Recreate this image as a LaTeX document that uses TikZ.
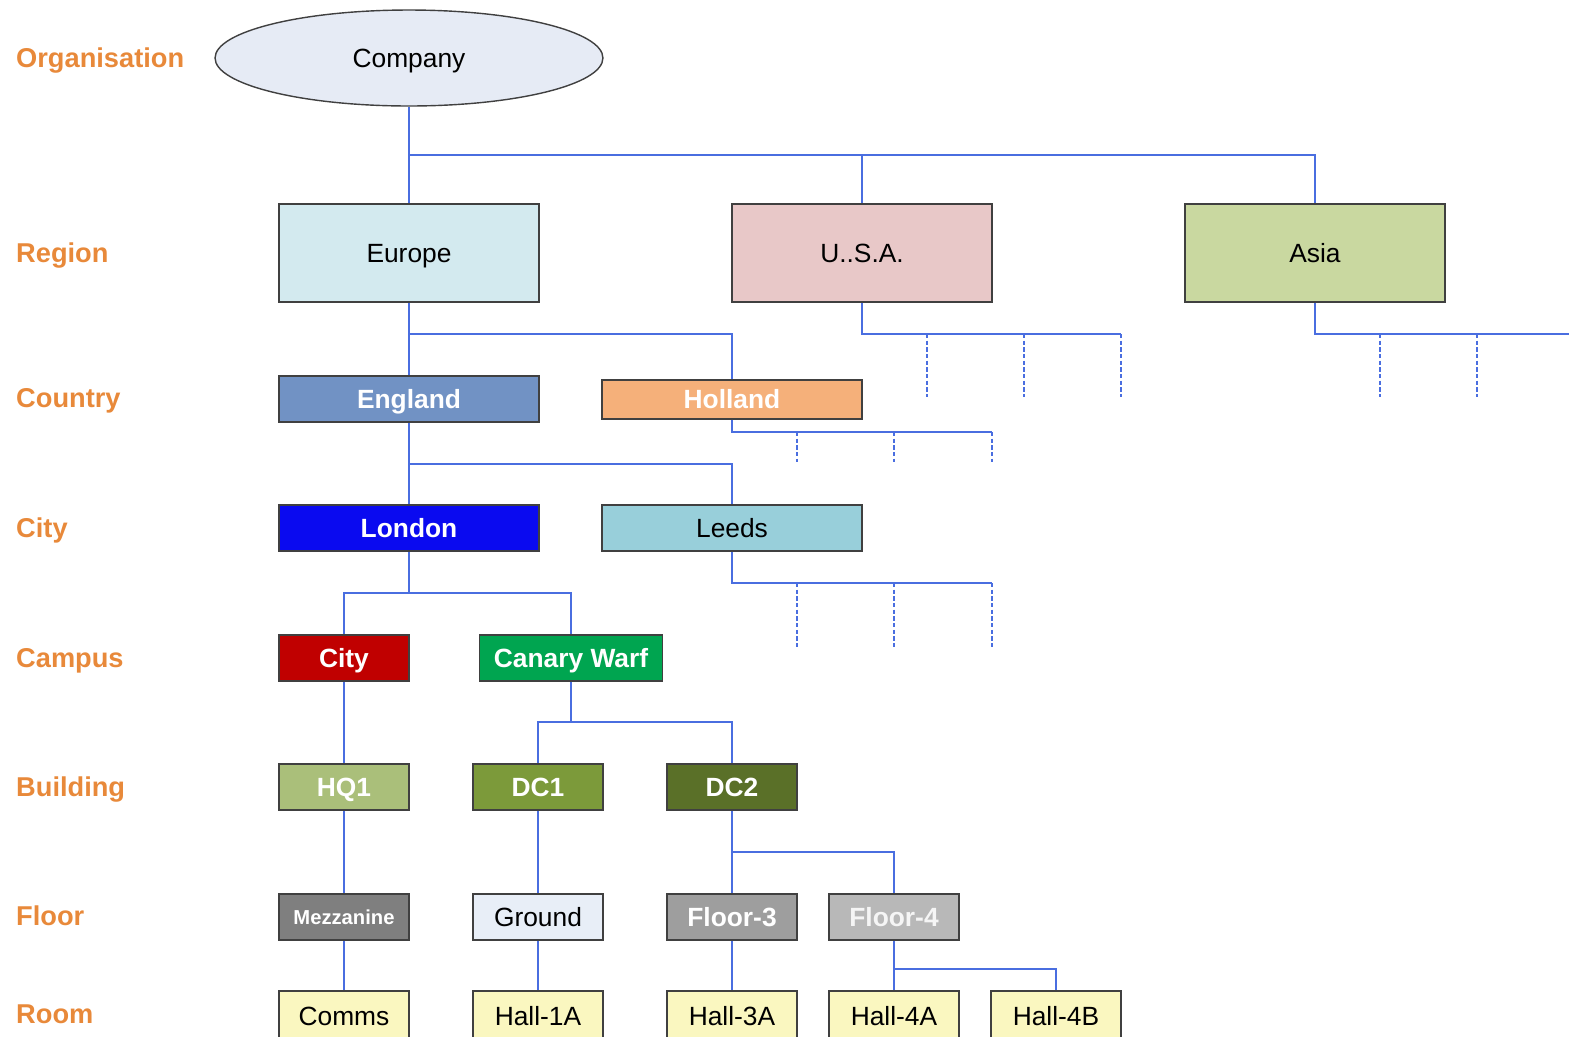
\documentclass[tikz,border=0pt]{standalone}
\usepackage{fontspec}
\setmainfont{Liberation Sans}
\usetikzlibrary{positioning,shapes.geometric}

\definecolor{levelorange}{HTML}{E8893A}
\definecolor{linkblue}{HTML}{4A6EE0}
\definecolor{boxline}{HTML}{404040}
\definecolor{companyfill}{HTML}{E6EBF5}
\definecolor{europefill}{HTML}{D3EAEF}
\definecolor{usafill}{HTML}{E8C8C8}
\definecolor{asiafill}{HTML}{C9D8A0}
\definecolor{englandfill}{HTML}{7192C4}
\definecolor{hollandfill}{HTML}{F5B07A}
\definecolor{londonfill}{HTML}{0A0AF0}
\definecolor{leedsfill}{HTML}{98CFDA}
\definecolor{cityfill}{HTML}{C00000}
\definecolor{canaryfill}{HTML}{00A550}
\definecolor{hqfill}{HTML}{AABF7A}
\definecolor{dconefill}{HTML}{7C9A3A}
\definecolor{dctwofill}{HTML}{5A7028}
\definecolor{mezzfill}{HTML}{7F7F7F}
\definecolor{groundfill}{HTML}{E8EEF7}
\definecolor{floorthreefill}{HTML}{9E9E9E}
\definecolor{floorfourfill}{HTML}{B8B8B8}
\definecolor{roomfill}{HTML}{FAF7C0}

\begin{document}
\begin{tikzpicture}[x=0.02cm,y=-0.02cm,
    box/.style={draw=boxline,line width=0.8pt,minimum height=0.92cm,inner sep=0pt,
        text height=10.7pt,text depth=0pt,font=\fontsize{15}{18}\selectfont},
    wide/.style={box,minimum width=5.2cm},
    narrow/.style={box,minimum width=2.6cm},
    room/.style={narrow,fill=roomfill,minimum height=1cm},
    whitetxt/.style={text=white,font=\bfseries\fontsize{15}{18}\selectfont},
    level/.style={anchor=west,text=levelorange,text height=11pt,text depth=0pt,
        font=\bfseries\fontsize{15.5}{18}\selectfont},
    link/.style={draw=linkblue,line width=1.1pt},
    stub/.style={draw=linkblue,line width=1.3pt,dash pattern=on 2.4pt off 1.4pt}]
    \useasboundingbox (0,0) rectangle (1569,1036);
    \clip (0,0) rectangle (1569,1036);

    % level names
    \node[level] (lorg) at (10,58) {Organisation};
    \node[level] (lreg) at (10,253) {Region};
    \node[level] (lctry) at (10,398) {Country};
    \node[level] (lcity) at (10,528) {City};
    \node[level] (lcamp) at (10,658) {Campus};
    \node[level] (lbld) at (10,787) {Building};
    \node[level] (lflr) at (10,916) {Floor};
    \node[level] (lroom) at (10,1014) {Room};

    % tree
    \node[ellipse,draw=boxline,line width=0.8pt,fill=companyfill,minimum width=7.76cm,minimum height=1.92cm,
        text height=10.7pt,text depth=0pt,font=\fontsize{15}{18}\selectfont] (company) at (409,58) {Company};
    \node[wide,minimum height=1.96cm,fill=europefill] (europe) at (409,253) {Europe};
    \node[wide,minimum height=1.96cm,fill=usafill] (usa) at (862,253) {U..S.A.};
    \node[wide,minimum height=1.96cm,fill=asiafill] (asia) at (1315,253) {Asia};

    \node[wide,fill=englandfill,whitetxt] (england) at (409,399) {England};
    \node[wide,fill=hollandfill,whitetxt,minimum height=0.78cm] (holland) at (732,399.5) {Holland};

    \node[wide,fill=londonfill,whitetxt] (london) at (409,528) {London};
    \node[wide,fill=leedsfill] (leeds) at (732,528) {Leeds};

    \node[narrow,fill=cityfill,whitetxt] (city) at (344,658) {City};
    \node[box,minimum width=3.66cm,fill=canaryfill,whitetxt] (canary) at (571,658) {Canary Warf};

    \node[narrow,fill=hqfill,whitetxt] (hq1) at (344,787) {HQ1};
    \node[narrow,fill=dconefill,whitetxt] (dc1) at (538,787) {DC1};
    \node[narrow,fill=dctwofill,whitetxt] (dc2) at (732,787) {DC2};

    \node[narrow,fill=mezzfill,text=white,text height=8.2pt,font=\bfseries\fontsize{11.5}{14}\selectfont] (mezz) at (344,917) {Mezzanine};
    \node[narrow,fill=groundfill] (ground) at (538,917) {Ground};
    \node[narrow,fill=floorthreefill,whitetxt] (floor3) at (732,917) {Floor-3};
    \node[narrow,fill=floorfourfill,whitetxt,text=white!92!gray] (floor4) at (894,917) {Floor-4};

    \node[room] (comms) at (344,1016) {Comms};
    \node[room] (hall1a) at (538,1016) {Hall-1A};
    \node[room] (hall3a) at (732,1016) {Hall-3A};
    \node[room] (hall4a) at (894,1016) {Hall-4A};
    \node[room] (hall4b) at (1056,1016) {Hall-4B};

    % buses
    \coordinate (regbus) at (409,155);
    \coordinate (ctrybus) at (409,334);
    \coordinate (usaend) at (1121,334);
    \coordinate (asiaend) at (1575,334);
    \coordinate (hollandend) at (992,432);
    \coordinate (citybus) at (409,464);
    \coordinate (leedsend) at (992,583);
    \coordinate (campbus) at (409,593);
    \coordinate (bldbus) at (571,722);
    \coordinate (flrbus) at (732,852);
    \coordinate (roombus) at (894,969);

    % connectors
    \draw[link] (company.south) -- (europe.north);
    \draw[link] (regbus) -| (usa.north);
    \draw[link] (regbus) -| (asia.north);
    \draw[link] (europe.south) -- (england.north);
    \draw[link] (ctrybus) -| (holland.north);
    \draw[link] (usa.south) |- (usaend);
    \draw[link] (asia.south) |- (asiaend);
    \draw[link] (holland.south) |- (hollandend);
    \draw[link] (england.south) -- (london.north);
    \draw[link] (citybus) -| (leeds.north);
    \draw[link] (leeds.south) |- (leedsend);
    \draw[link] (london.south) -- (campbus);
    \draw[link] (campbus) -| (city.north);
    \draw[link] (campbus) -| (canary.north);
    \draw[link] (city.south) -- (hq1.north);
    \draw[link] (canary.south) -- (bldbus);
    \draw[link] (bldbus) -| (dc1.north);
    \draw[link] (bldbus) -| (dc2.north);
    \draw[link] (hq1.south) -- (mezz.north);
    \draw[link] (dc1.south) -- (ground.north);
    \draw[link] (dc2.south) -- (floor3.north);
    \draw[link] (flrbus) -| (floor4.north);
    \draw[link] (mezz.south) -- (comms.north);
    \draw[link] (ground.south) -- (hall1a.north);
    \draw[link] (floor3.south) -- (hall3a.north);
    \draw[link] (floor4.south) -- (hall4a.north);
    \draw[link] (roombus) -| (hall4b.north);

    % open branches
    \foreach \x in {927,1024,1121}
        \draw[stub] (\x,334) -- (\x,397);
    \foreach \x in {1380,1477}
        \draw[stub] (\x,334) -- (\x,397);
    \foreach \x in {797,894,992}
        \draw[stub] (\x,432) -- (\x,462);
    \foreach \x in {797,894,992}
        \draw[stub] (\x,583) -- (\x,647);
\end{tikzpicture}
\end{document}
